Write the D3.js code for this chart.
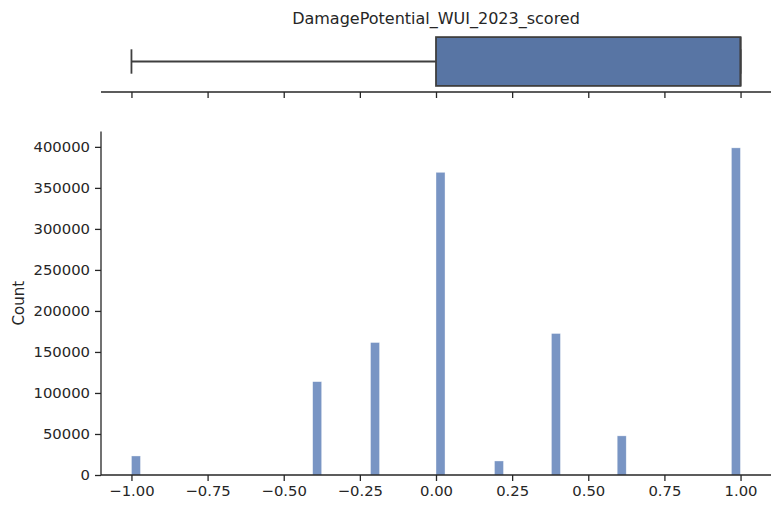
<!DOCTYPE html>
<html>
<head>
<meta charset="utf-8">
<script src="https://cdn.jsdelivr.net/npm/d3@7"></script>
<style>
  body { margin: 0; background: #fff; }
  text { font-family: "DejaVu Sans", sans-serif; fill: #262626; }
</style>
</head>
<body>
<div id="chart"></div>
<script>
(function(){
  const W = 777, H = 508

  // histogram bins (left edge) and counts
  const binStarts = [-1.0, -0.405, -0.215, 0.0, 0.192, 0.379, 0.595, 0.970]
  const counts    = [23200, 113800, 161500, 369000, 17100, 172500, 47700, 398800]
  const binWidth  = 0.0296

  // box plot summary
  const boxStats = {min: -1.0, q1: 0.0, median: 1.0, q3: 1.0, max: 1.0}

  const xTicks = [-1.0, -0.75, -0.5, -0.25, 0, 0.25, 0.5, 0.75, 1.0]
  const yTicks = [0, 50000, 100000, 150000, 200000, 250000, 300000, 350000, 400000]
  const title = "DamagePotential_WUI_2023_scored"

  const histColor = '#7995c4',
        boxFill = '#5875a4',
        boxEdge = '#3f3f3f',
        axisColor = '#262626'

  const left = 101, right = 771
  const hTop = 131.5, hBottom = 475
  const bTop = 31, bBottom = 92

  const svg = d3.select('#chart').append('svg')
    .attr('width', W).attr('height', H)

  const x = d3.scaleLinear().domain([-1.1, 1.1]).range([left, right])
  const yMax = d3.max(counts) * 1.05
  const y = d3.scaleLinear().domain([0, yMax]).range([hBottom, hTop])
  const yb = d3.scaleLinear().domain([0.5, -0.5]).range([bTop, bBottom])

  const fmtX = d => d3.format('.2f')(d).replace('-', '\u2212')

  // ---- box plot (top) ----
  const gb = svg.append('g')

  gb.append('line')
    .attr('x1', x(boxStats.min)).attr('x2', x(boxStats.q1))
    .attr('y1', yb(0)).attr('y2', yb(0))
    .attr('stroke', boxEdge).attr('stroke-width', 1.8)
  gb.append('line')
    .attr('x1', x(boxStats.q3)).attr('x2', x(boxStats.max))
    .attr('y1', yb(0)).attr('y2', yb(0))
    .attr('stroke', boxEdge).attr('stroke-width', 1.8)
  // caps
  ;[boxStats.min, boxStats.max].forEach(function(v){
    gb.append('line')
      .attr('x1', x(v)).attr('x2', x(v))
      .attr('y1', yb(-0.2)).attr('y2', yb(0.2))
      .attr('stroke', boxEdge).attr('stroke-width', 1.8)
  })
  gb.append('rect')
    .attr('x', x(boxStats.q1)).attr('width', x(boxStats.q3) - x(boxStats.q1))
    .attr('y', yb(0.4)).attr('height', yb(-0.4) - yb(0.4))
    .attr('fill', boxFill).attr('stroke', boxEdge).attr('stroke-width', 1.8)
  gb.append('line')
    .attr('x1', x(boxStats.median)).attr('x2', x(boxStats.median))
    .attr('y1', yb(0.4)).attr('y2', yb(-0.4))
    .attr('stroke', boxEdge).attr('stroke-width', 1.8)

  const bAxis = gb.append('g')
    .attr('transform', 'translate(0,' + bBottom + ')')
    .call(d3.axisBottom(x).tickValues(xTicks).tickSize(6).tickFormat(''))
  bAxis.select('.domain').attr('d', 'M' + left + ',0H' + right)

  svg.append('text')
    .attr('x', (left + right) / 2).attr('y', 24)
    .attr('text-anchor', 'middle')
    .style('font-size', '16px')
    .text(title)

  // ---- histogram ----
  const bins = binStarts.map((b, i) => ({x0: b, x1: b + binWidth, n: counts[i]}))

  svg.append('g').selectAll('rect').data(bins).enter().append('rect')
    .attr('x', d => x(d.x0))
    .attr('width', d => x(d.x1) - x(d.x0))
    .attr('y', d => y(d.n))
    .attr('height', d => y(0) - y(d.n))
    .attr('fill', histColor)
    .attr('stroke', '#fff').attr('stroke-opacity', 0.6).attr('stroke-width', 0.6)

  const xAxis = svg.append('g')
    .attr('transform', 'translate(0,' + hBottom + ')')
    .call(d3.axisBottom(x).tickValues(xTicks).tickSize(6).tickPadding(4).tickFormat(fmtX))
  xAxis.select('.domain').attr('d', 'M' + left + ',0H' + right)

  const yAxis = svg.append('g')
    .attr('transform', 'translate(' + left + ',0)')
    .call(d3.axisLeft(y).tickValues(yTicks).tickSize(6).tickPadding(5).tickFormat(d3.format('d')))
  yAxis.select('.domain').attr('d', 'M0,' + hTop + 'V' + hBottom)

  svg.selectAll('.tick text').style('font-size', '14.8px').attr('fill', axisColor)
  svg.selectAll('.tick line').attr('stroke', axisColor).attr('stroke-width', 1.3)
  svg.selectAll('.domain').attr('stroke', axisColor).attr('stroke-width', 1.3)

  svg.append('text')
    .attr('transform', 'translate(24,' + ((hTop + hBottom) / 2) + ') rotate(-90)')
    .attr('text-anchor', 'middle')
    .style('font-size', '15px')
    .text('Count')
})()
</script>
</body>
</html>
